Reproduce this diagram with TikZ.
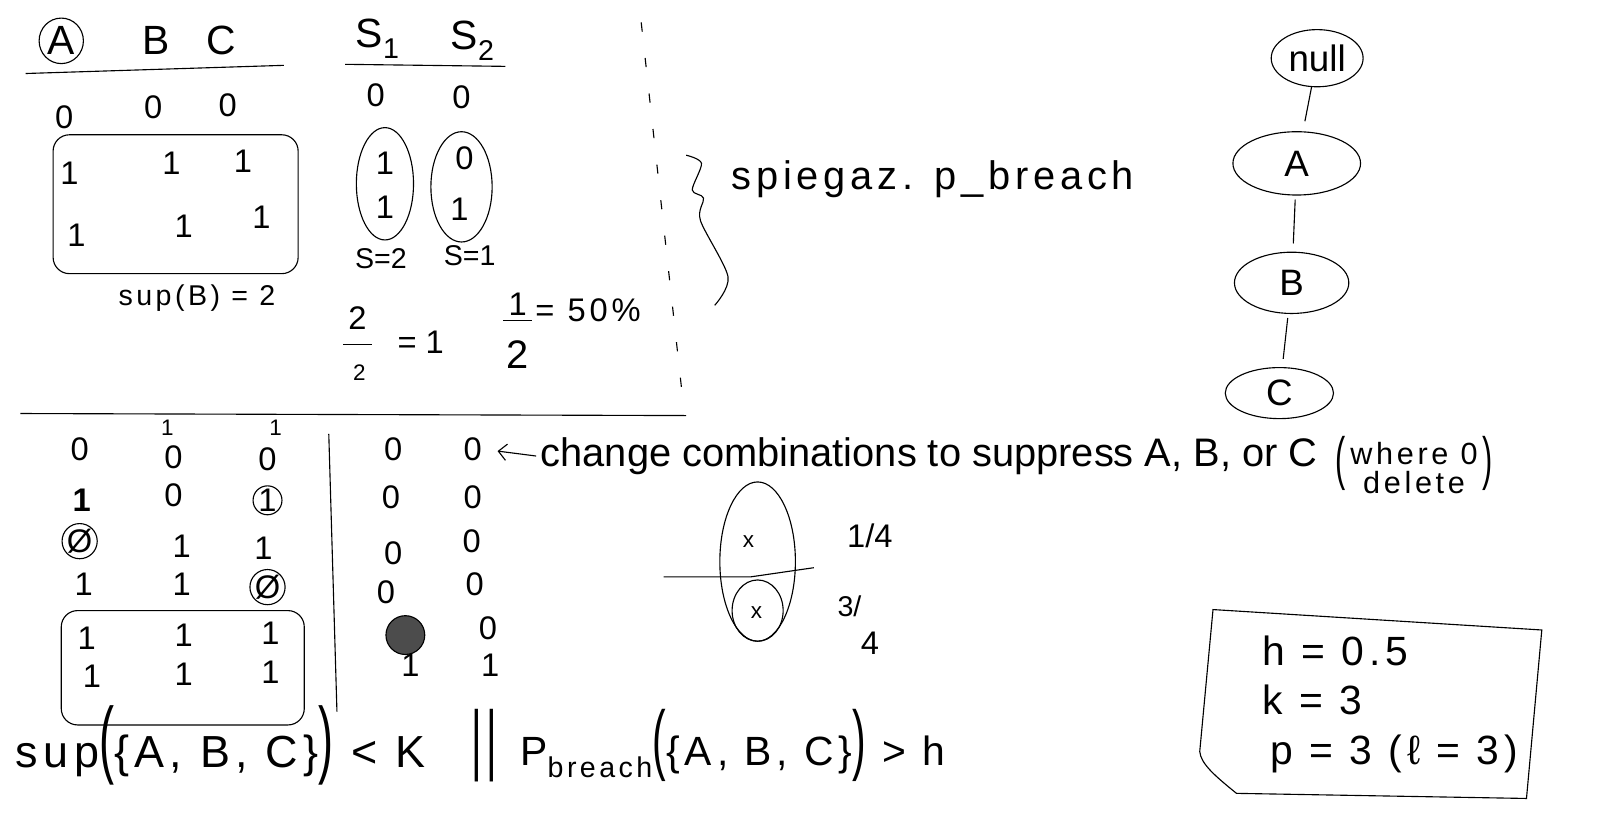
\documentclass[tikz,border=0pt]{standalone}
\usepackage{fontspec}
\setmainfont{Liberation Sans}
\usetikzlibrary{shapes.geometric,arrows.meta}

\newcommand{\tallpar}[1]{\scalebox{1}[1.9]{#1}}

\begin{document}
\begin{tikzpicture}[x=1pt,y=-1pt,line width=1.1pt,
    every node/.style={inner sep=1pt},
    hdr/.style={font=\fontsize{40}{44}\selectfont},
    dig/.style={font=\fontsize{32}{36}\selectfont},
    fix/.style={font=\fontsize{22}{24}\selectfont},
    note/.style={font=\fontsize{39}{44}\selectfont},
    small/.style={font=\fontsize{28}{32}\selectfont},
    wide/.style={font=\fontsize{#1}{#1}\selectfont\addfontfeature{LetterSpace=12}},
    treenode/.style={draw, ellipse, inner sep=0pt, font=\fontsize{36}{40}\selectfont}
  ]
    \useasboundingbox (0,0) rectangle (1568,813);

    % Top left: items A B C
    \node[hdr, draw, ellipse, inner sep=2pt] (hA) at (60,40) {A};
    \node[hdr] (hB) at (153,40) {B};
    \node[hdr] (hC) at (217,40) {C};
    \draw (25,72) -- (278,64);
    \node[dig] (t1a) at (63,115) {0};
    \node[dig] (t1b) at (150,105) {0};
    \node[dig] (t1c) at (223,103) {0};
    \draw[rounded corners=16pt] (52,132) rectangle (292,268);
    \node[dig] (t2a) at (68,170) {1};
    \node[dig] (t2b) at (168,160) {1};
    \node[dig] (t2c) at (238,158) {1};
    \node[dig] (t3a) at (75,230) {1};
    \node[dig] (t3b) at (180,222) {1};
    \node[dig] (t3c) at (256,213) {1};
    \node[wide=28] (supB) at (193,292) {sup(B) = 2};

    % Top left: sequences S1 S2
    \node[hdr] (hS1) at (370,38) {S\textsubscript{1}};
    \node[hdr] (hS2) at (463,40) {S\textsubscript{2}};
    \draw (338,63) -- (495,65);
    \node[dig] (s1a) at (368,93) {0};
    \node[dig] (s2a) at (452,95) {0};
    \node[dig] (s1b) at (377,160) {1};
    \node[dig] (s1c) at (377,203) {1};
    \node[dig] (s2b) at (455,155) {0};
    \node[dig] (s2c) at (450,205) {1};
    \draw (377,180) ellipse [x radius=28, y radius=55];
    \draw (452,183) ellipse [x radius=30, y radius=54];
    \node[small] (cnt1) at (373,253) {S=2};
    \node[small] (cnt2) at (460,250) {S=1};

    % ratios
    \node[dig] (f1n) at (350,312) {2};
    \draw (336,337) -- (364,337);
    \node[fix] (f1d) at (352,365) {2};
    \node[dig] (f1r) at (412,335) {= 1};
    \node[dig] (f2n) at (507,298) {1};
    \draw (493,314) -- (521,314);
    \node[note] (f2d) at (507,347) {2};
    \node[wide=32] (f2r) at (576,304) {= 50\%};

    % separators
    \draw[dash pattern=on 9pt off 26pt] (628,22) -- (668,385);
    \draw (20,405) -- (672,407);

    % brace and note
    \draw plot[smooth] coordinates {(672,152) (687,160) (678,186) (689,194) (686,216) (713,271) (700,299)};
    \node[wide=39, anchor=west] (spieg) at (715,176) {spiegaz. p\_breach};

    % tree
    \node[treenode, minimum width=90pt, minimum height=56pt] (null) at (1290,57) {null};
    \node[treenode, minimum width=125pt, minimum height=62pt] (nA) at (1270,160) {A};
    \node[treenode, minimum width=112pt, minimum height=60pt] (nB) at (1265,277) {B};
    \node[treenode, minimum width=106pt, minimum height=50pt] (nC) at (1253,385) {C};
    \draw[shorten >=10pt] (null) -- (nA);
    \draw[shorten <=4pt, shorten >=8pt] (nA) -- (nB);
    \draw[shorten <=4pt, shorten >=8pt] (nB) -- (nC);

    % bottom left table
    \node[dig] (l1a) at (78,440) {0};
    \node[dig] (l1b) at (170,448) {0};
    \node[fix] (l1bx) at (164,419) {1};
    \node[dig] (l1c) at (262,450) {0};
    \node[fix] (l1cx) at (270,419) {1};
    \node[dig, font=\fontsize{32}{36}\selectfont\bfseries] (l2a) at (80,490) {1};
    \node[dig] (l2b) at (170,485) {0};
    \node[dig, draw, circle, inner sep=0pt] (l2c) at (262,490) {1};
    \node[dig, draw, circle, inner sep=0pt] (l3a) at (78,530) {Ø};
    \node[dig] (l3b) at (178,535) {1};
    \node[dig] (l3c) at (258,537) {1};
    \node[dig] (l4a) at (82,572) {1};
    \node[dig] (l4b) at (178,572) {1};
    \node[dig, draw, circle, inner sep=0pt] (l4c) at (262,575) {Ø};
    \draw[rounded corners=16pt] (60,598) rectangle (298,710);
    \node[dig] (l5a) at (85,625) {1};
    \node[dig] (l5b) at (180,622) {1};
    \node[dig] (l5c) at (265,620) {1};
    \node[dig] (l6a) at (90,662) {1};
    \node[dig] (l6b) at (180,660) {1};
    \node[dig] (l6c) at (265,658) {1};
    \draw (322,425) -- (330,697);

    % bottom left: two columns
    \node[dig] (r1a) at (385,440) {0};
    \node[dig] (r1b) at (463,440) {0};
    \node[dig] (r2a) at (383,487) {0};
    \node[dig] (r2b) at (463,487) {0};
    \node[dig] (r3a) at (385,542) {0};
    \node[dig] (r3b) at (462,530) {0};
    \node[dig] (r4a) at (378,580) {0};
    \node[dig] (r4b) at (465,572) {0};
    \node[draw, circle, fill=black!70, minimum size=38pt] (r5a) at (397,622) {};
    \node[dig] (r6a) at (402,652) {1};
    \node[dig] (r5b) at (478,615) {0};
    \node[dig] (r6b) at (480,652) {1};

    % note with arrow
    \node[note, anchor=west] (chg) at (528,447) {change combinations to suppress A, B, or C};
    \node[wide=30, anchor=west] (whr) at (1306,460) {\tallpar{(}\,\begin{tabular}{@{}c@{}}where 0\\[-2pt]delete\end{tabular}\,\tallpar{)}};
    \draw[-{Straight Barb[length=8pt,width=16pt]}, shorten <=3pt, shorten >=14pt] (chg.west) -- (r1b.east);

    % split of the sequences
    \draw (742,550) ellipse [x radius=37, y radius=78];
    \draw (742,598) ellipse [x radius=25, y radius=30];
    \node[fix] (xa) at (733,530) {x};
    \node[fix] (xb) at (741,600) {x};
    \draw (650,565) -- (735,565) -- (797,556);
    \node[dig] (qa) at (852,525) {1/4};
    \node[small] (qb) at (832,594) {3/};
    \node[dig] (qc) at (852,630) {4};

    % conditions
    \node[wide=44, anchor=west] (supK) at (14,730) {sup\tallpar{(}\{A, B, C\}\tallpar{)} < K};
    \node[wide=40, anchor=west] (pbr) at (460,730) {\tallpar{||}\, P\textsubscript{breach}\tallpar{(}\{A, B, C\}\tallpar{)} > h};

    % parameters
    \draw (1188,597) -- (1510,617) -- (1495,782) -- (1211,777) .. controls (1190,760) and (1176,748) .. (1175,736) -- cycle;
    \node[wide=40, anchor=west] (ph) at (1235,637) {h = 0.5};
    \node[wide=40, anchor=west] (pk) at (1235,685) {k = 3};
    \node[wide=40, anchor=west] (pp) at (1243,738) {p = 3 (ℓ = 3)};
\end{tikzpicture}
\end{document}
